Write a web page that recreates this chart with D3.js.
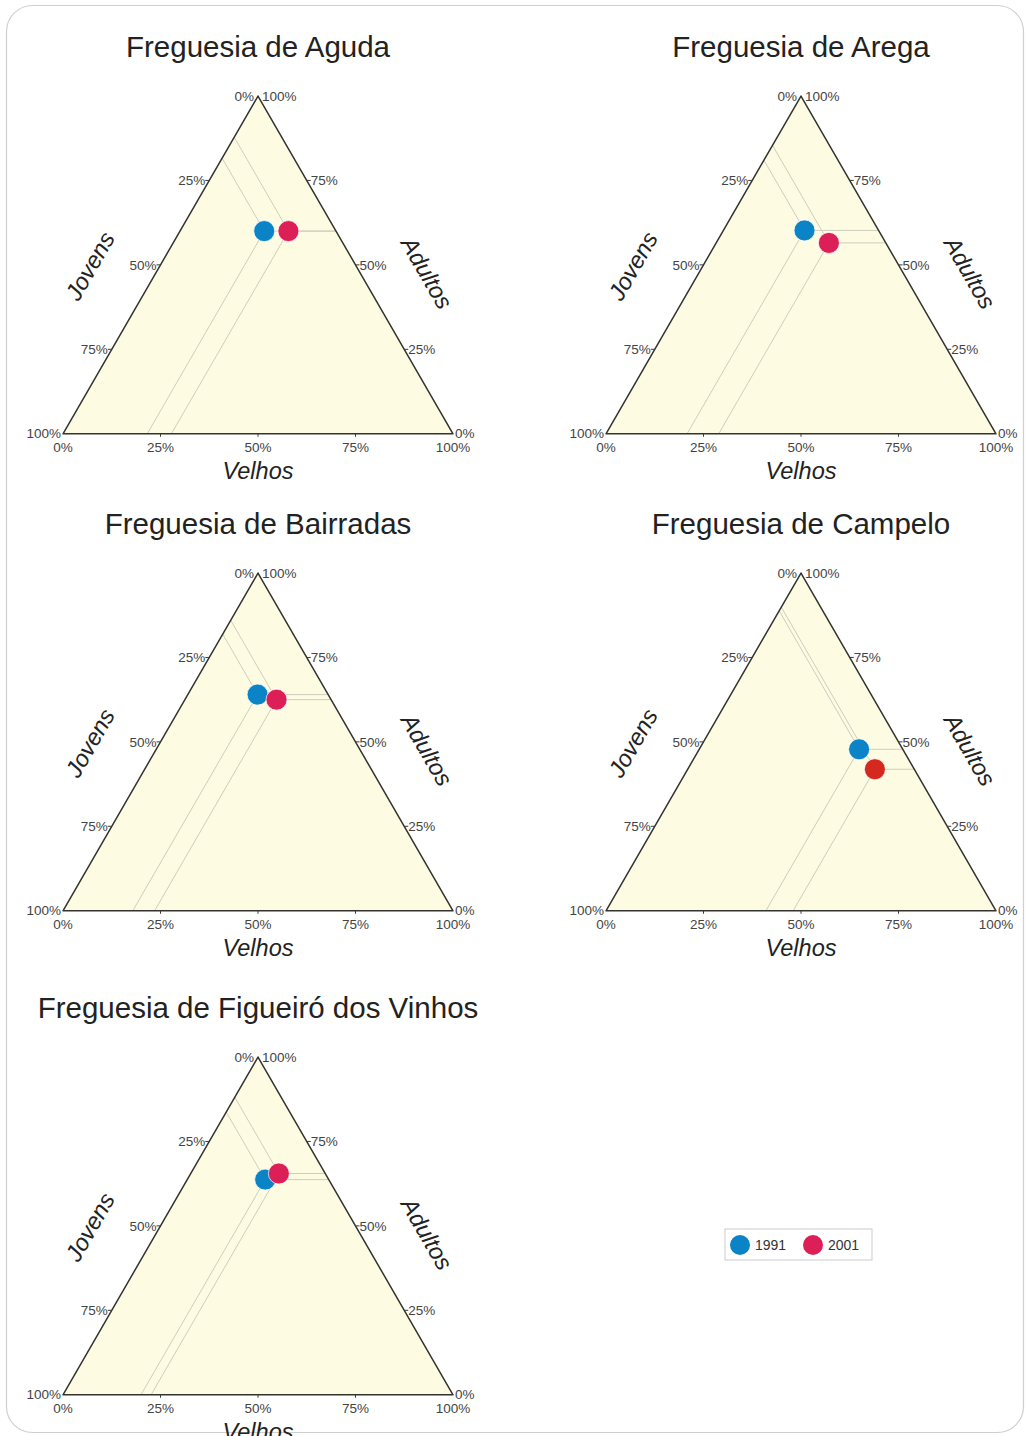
<!DOCTYPE html>
<html>
<head>
<meta charset="utf-8">
<script src="https://cdn.jsdelivr.net/npm/d3@7"></script>
<style>
  body { margin: 0; background: #fff; }
  svg { display: block; font-family: "Liberation Sans", Arial, sans-serif; }
</style>
</head>
<body>
<svg id="chart" width="1027" height="1436"></svg>
<script>
// population structure by freguesia (shares of Jovens / Adultos / Velhos)
const freguesias = ["Aguda", "Arega", "Bairradas", "Campelo", "Figueiró dos Vinhos"];
const years = ["1991", "2001"];

const jovens1991  = [0.184, 0.190, 0.181, 0.112, 0.163];
const adultos1991 = [0.600, 0.602, 0.640, 0.478, 0.637];
const velhos1991  = [0.216, 0.208, 0.179, 0.410, 0.200];

const jovens2001  = [0.122, 0.146, 0.140, 0.101, 0.119];
const adultos2001 = [0.600, 0.565, 0.625, 0.419, 0.655];
const velhos2001  = [0.278, 0.289, 0.235, 0.480, 0.226];

const tickValues = [0, 0.25, 0.5, 0.75, 1];

const yearColor = {"1991": "#0a84c6", "2001": "#dd1f58"};
// Campelo 2001 is drawn in a redder tone in the original
const overrideColor = {"Campelo-2001": "#d5281e"};

const layout = {
  triWidth: 390,
  cols: [63, 606],      // left x of each column's triangle
  rows: [96, 573, 1057] // top y of each row's triangle
};
const triHeight = layout.triWidth * Math.sqrt(3) / 2;

const svg = d3.select("#chart");

svg.append("rect")
  .attr("x", 6.5).attr("y", 5.5)
  .attr("width", 1017).attr("height", 1427)
  .attr("rx", 26)
  .attr("fill", "#fff")
  .attr("stroke", "#cfcfcf")
  .attr("stroke-width", 1.2);

const pct = d3.format(".0%");

freguesias.forEach((name, i) => {
  const left = layout.cols[i % 2];
  const top = layout.rows[Math.floor(i / 2)];
  const base = top + triHeight;

  const xBase = d3.scaleLinear().domain([0, 1]).range([left, left + layout.triWidth]);
  const yA = d3.scaleLinear().domain([0, 1]).range([base, top]);
  // ternary -> screen: Velhos along the base, Adultos up to the apex
  const proj = (j, a, v) => [xBase(v + a / 2), yA(a)];

  const g = svg.append("g");
  const cx = xBase(0.5);

  g.append("text")
    .attr("x", cx).attr("y", top - 39)
    .attr("text-anchor", "middle")
    .attr("font-size", 29.5)
    .attr("fill", "#222")
    .text("Freguesia de " + name);

  const corners = [proj(1, 0, 0), proj(0, 1, 0), proj(0, 0, 1)];
  g.append("path")
    .attr("d", d3.line()(corners) + "Z")
    .attr("fill", "#fdfce2");

  const points = years.map(y => {
    const J = y === "1991" ? jovens1991 : jovens2001;
    const A = y === "1991" ? adultos1991 : adultos2001;
    const V = y === "1991" ? velhos1991 : velhos2001;
    return {year: y, j: J[i], a: A[i], v: V[i]};
  });

  // guide lines from each point to the three edges
  const guides = g.append("g")
    .attr("stroke", "#cfcdbd")
    .attr("stroke-width", 1)
    .attr("fill", "none");
  points.forEach(p => {
    const pt = proj(p.j, p.a, p.v);
    [proj(p.j, 1 - p.j, 0), proj(1 - p.v, 0, p.v), proj(0, p.a, 1 - p.a)].forEach(end => {
      guides.append("line")
        .attr("x1", pt[0]).attr("y1", pt[1])
        .attr("x2", end[0]).attr("y2", end[1]);
    });
  });

  g.append("path")
    .attr("d", d3.line()(corners) + "Z")
    .attr("fill", "none")
    .attr("stroke", "#33332f")
    .attr("stroke-width", 1.5)
    .attr("stroke-linejoin", "round");

  // ticks + labels
  const tickG = g.append("g").attr("font-size", 13.5).attr("fill", "#444");
  tickValues.forEach(t => {
    // Jovens along the left edge
    const pl = proj(t, 1 - t, 0);
    if (t > 0 && t < 1) {
      g.append("line").attr("x1", pl[0] - 4).attr("x2", pl[0]).attr("y1", pl[1]).attr("y2", pl[1])
        .attr("stroke", "#3a3a36").attr("stroke-width", 1);
    }
    tickG.append("text")
      .attr("x", pl[0] - (t === 1 ? 2 : 4)).attr("y", pl[1] + (t === 0 ? 0 : 0))
      .attr("dy", "0.35em")
      .attr("text-anchor", "end")
      .text(pct(t));

    // Adultos along the right edge
    const pr = proj(0, t, 1 - t);
    if (t > 0 && t < 1) {
      g.append("line").attr("x1", pr[0]).attr("x2", pr[0] + 4).attr("y1", pr[1]).attr("y2", pr[1])
        .attr("stroke", "#3a3a36").attr("stroke-width", 1);
    }
    tickG.append("text")
      .attr("x", pr[0] + (t === 0 ? 2 : 4)).attr("y", pr[1])
      .attr("dy", "0.35em")
      .attr("text-anchor", "start")
      .text(pct(t));

    // Velhos along the base
    const pb = proj(1 - t, 0, t);
    if (t > 0 && t < 1) {
      g.append("line").attr("x1", pb[0]).attr("x2", pb[0]).attr("y1", pb[1]).attr("y2", pb[1] + 3)
        .attr("stroke", "#3a3a36").attr("stroke-width", 1);
    }
    tickG.append("text")
      .attr("x", pb[0]).attr("y", pb[1] + 18)
      .attr("text-anchor", "middle")
      .text(pct(t));
  });

  // axis titles
  const titleMidY = top + triHeight / 2;
  g.append("text")
    .attr("transform", `translate(${cx - 168},${titleMidY + 1}) rotate(-60)`)
    .attr("text-anchor", "middle").attr("dy", "0.35em")
    .attr("font-size", 23.5).attr("font-style", "italic").attr("fill", "#222")
    .text("Jovens");
  g.append("text")
    .attr("transform", `translate(${cx + 169},${titleMidY + 8}) rotate(60)`)
    .attr("text-anchor", "middle").attr("dy", "0.35em")
    .attr("font-size", 23.5).attr("font-style", "italic").attr("fill", "#222")
    .text("Adultos");
  g.append("text")
    .attr("x", cx).attr("y", base + 45)
    .attr("text-anchor", "middle")
    .attr("font-size", 23.5).attr("font-style", "italic").attr("fill", "#222")
    .text("Velhos");

  // points
  g.selectAll(".pt")
    .data(points)
    .join("circle")
    .attr("class", "pt")
    .attr("cx", d => proj(d.j, d.a, d.v)[0])
    .attr("cy", d => proj(d.j, d.a, d.v)[1])
    .attr("r", 10.5)
    .attr("fill", d => overrideColor[name.split(" ")[0] + "-" + d.year] || yearColor[d.year])
    .attr("stroke", "#ffffff")
    .attr("stroke-opacity", 0.7)
    .attr("stroke-width", 1);
});

// legend
const legend = svg.append("g").attr("transform", "translate(725,1229)");
legend.append("rect")
  .attr("width", 147).attr("height", 31)
  .attr("fill", "#fff")
  .attr("stroke", "#cccccc");
years.forEach((y, k) => {
  const lx = 15 + k * 73;
  legend.append("circle")
    .attr("cx", lx).attr("cy", 16).attr("r", 10)
    .attr("fill", yearColor[y]);
  legend.append("text")
    .attr("x", lx + 15).attr("y", 16).attr("dy", "0.35em")
    .attr("font-size", 14).attr("fill", "#333")
    .text(y);
});
</script>
</body>
</html>
